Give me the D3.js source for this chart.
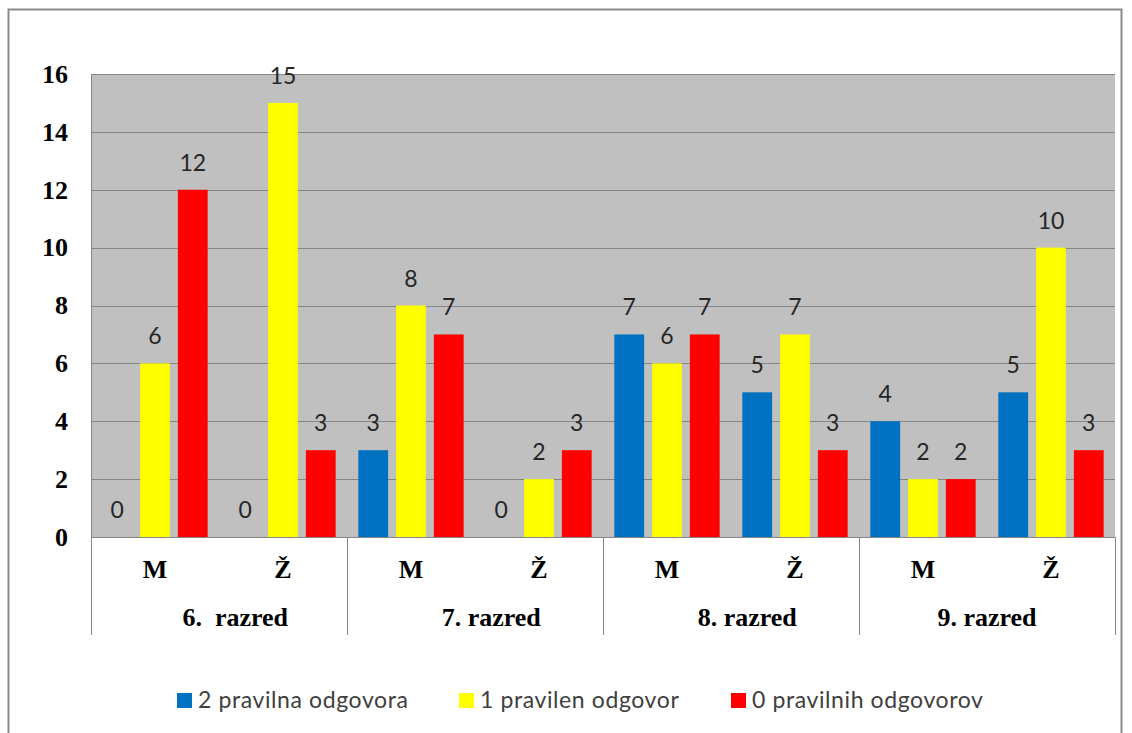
<!DOCTYPE html>
<html>
<head>
<meta charset="utf-8">
<script src="https://cdn.jsdelivr.net/npm/d3@7"></script>
<style>
  body { margin: 0; background: #fff; }
  svg text { white-space: pre; }
</style>
</head>
<body>
<svg id="chart" width="1132" height="733"></svg>
<script>
// data
const grades = ["     6.  razred", "     7. razred", "     8. razred", "9. razred"];
const genders = ["M", "Ž"];
const seriesNames = ["2 pravilna odgovora", "1 pravilen odgovor", "0 pravilnih odgovorov"];
const seriesColours = ["#0070C0", "#FFFF00", "#FF0000"];
// order: 6M, 6Ž, 7M, 7Ž, 8M, 8Ž, 9M, 9Ž
const twoCorrect = [0, 0, 3, 0, 7, 5, 4, 5];
const oneCorrect = [6, 15, 8, 2, 6, 7, 2, 10];
const noneCorrect = [12, 3, 7, 3, 7, 3, 2, 3];
const yTicks = [0, 2, 4, 6, 8, 10, 12, 14, 16];

const allSeries = [twoCorrect, oneCorrect, noneCorrect];

const svg = d3.select("#chart");

const plot = { left: 91, right: 1115, top: 74, bottom: 537 };
const serif = "'Liberation Serif', 'Times New Roman', serif";
const sans = "Lato, 'Open Sans', sans-serif";

// outer chart border
svg.append("rect")
        .attr("x", 8.5)
        .attr("y", 9.5)
        .attr("width", 1113)
        .attr("height", 740)
        .attr("fill", "#fff")
        .attr("stroke", "#8a8a8a")
        .attr("stroke-width", 2);

const y = d3.scaleLinear().domain([0, 16]).range([plot.bottom, plot.top]);

// subcategory keys e.g. "0-M"
const subKeys = [];
grades.forEach((g, gi) => genders.forEach(s => subKeys.push(gi + "-" + s)));

const xGroup = d3.scaleBand().domain(d3.range(grades.length)).range([plot.left, plot.right]);
const xSub = d3.scaleBand().domain(d3.range(subKeys.length)).range([plot.left, plot.right]);
const xSeries = d3.scaleBand().domain(d3.range(seriesNames.length))
        .range([0, xSub.bandwidth()])
        .paddingInner(0.212)
        .paddingOuter(0.3);

// plot background
svg.append("rect")
        .attr("x", plot.left)
        .attr("y", plot.top)
        .attr("width", plot.right - plot.left)
        .attr("height", plot.bottom - plot.top)
        .attr("fill", "#C0C0C0");

// gridlines
svg.append("g").selectAll("line")
        .data(yTicks)
        .join("line")
        .attr("x1", plot.left)
        .attr("x2", plot.right)
        .attr("y1", d => Math.round(y(d)) + 0.5)
        .attr("y2", d => Math.round(y(d)) + 0.5)
        .attr("stroke", "#868686")
        .attr("stroke-width", 1);

// left axis line
svg.append("line")
        .attr("x1", plot.left + 0.5).attr("x2", plot.left + 0.5)
        .attr("y1", plot.top).attr("y2", plot.bottom)
        .attr("stroke", "#868686");

// y tick labels
svg.append("g").selectAll("text")
        .data(yTicks)
        .join("text")
        .attr("x", 68)
        .attr("y", d => y(d))
        .attr("dy", "0.34em")
        .attr("text-anchor", "end")
        .attr("font-family", serif)
        .attr("font-weight", "bold")
        .attr("font-size", "26px")
        .attr("fill", "#000")
        .text(d => d);

// bars
const barData = [];
allSeries.forEach((vals, si) => vals.forEach((v, i) => barData.push({ si, i, v })));

svg.append("g").selectAll("rect")
        .data(barData)
        .join("rect")
        .attr("x", d => xSub(d.i) + xSeries(d.si))
        .attr("y", d => y(d.v))
        .attr("width", xSeries.bandwidth())
        .attr("height", d => y(0) - y(d.v))
        .attr("fill", d => seriesColours[d.si]);

// data labels
svg.append("g").selectAll("text")
        .data(barData)
        .join("text")
        .attr("x", d => xSub(d.i) + xSeries(d.si) + xSeries.bandwidth() / 2)
        .attr("y", d => y(d.v) - 19)
        .attr("text-anchor", "middle")
        .attr("font-family", sans)
        .attr("font-size", "23px")
        .attr("fill", "#262626")
        .text(d => d.v);

// category separators under the plot
svg.append("g").selectAll("line")
        .data(d3.range(grades.length + 1))
        .join("line")
        .attr("x1", d => Math.round(plot.left + d * xGroup.step()) + 0.5)
        .attr("x2", d => Math.round(plot.left + d * xGroup.step()) + 0.5)
        .attr("y1", plot.bottom)
        .attr("y2", 635)
        .attr("stroke", "#868686");

// gender labels
svg.append("g").selectAll("text")
        .data(subKeys)
        .join("text")
        .attr("x", (d, i) => xSub(i) + xSub.bandwidth() / 2)
        .attr("y", 578)
        .attr("text-anchor", "middle")
        .attr("font-family", serif)
        .attr("font-weight", "bold")
        .attr("font-size", "26px")
        .text(d => d.split("-")[1]);

// grade labels
svg.append("g").selectAll("text")
        .data(grades)
        .join("text")
        .attr("x", (d, i) => xGroup(i) + xGroup.bandwidth() / 2)
        .attr("y", 626)
        .attr("text-anchor", "middle")
        .attr("font-family", serif)
        .attr("font-weight", "bold")
        .attr("font-size", "26px")
        .text(d => d);

// legend
const legendX = [177, 459, 731];
const legend = svg.append("g").selectAll("g")
        .data(seriesNames)
        .join("g")
        .attr("transform", (d, i) => "translate(" + legendX[i] + ",700)");

legend.append("rect")
        .attr("x", 0)
        .attr("y", -7)
        .attr("width", 15)
        .attr("height", 15)
        .attr("fill", (d, i) => seriesColours[i]);

legend.append("text")
        .attr("x", 21)
        .attr("y", 0)
        .attr("dy", "0.36em")
        .attr("font-family", sans)
        .attr("font-size", "23px")
        .attr("letter-spacing", "0.6px")
        .attr("fill", "#404040")
        .text(d => d);
</script>
</body>
</html>
